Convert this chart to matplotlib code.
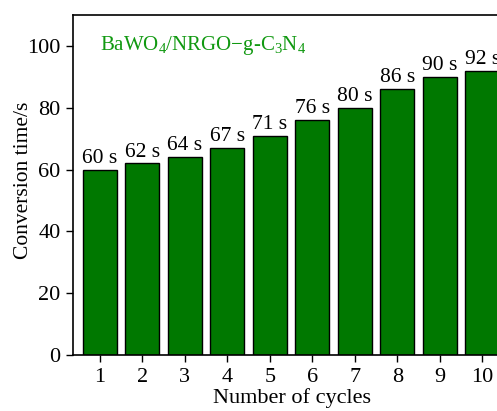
import matplotlib.pyplot as plt
import numpy as np

plt.rcParams['font.family'] = ['Liberation Serif', 'DejaVu Serif']
plt.rcParams['mathtext.fontset'] = 'custom'
plt.rcParams['mathtext.rm'] = 'Liberation Serif'
plt.rcParams['mathtext.it'] = 'Liberation Serif'

cycles = [1, 2, 3, 4, 5, 6, 7, 8, 9, 10]
times = [60, 62, 64, 67, 71, 76, 80, 86, 90, 92]

fig = plt.figure(figsize=(4.97, 4.11), dpi=100)
ax = fig.add_axes([0.147, 0.136, 0.875, 0.8275])

ax.bar(cycles, times, width=0.8, color='#007800', edgecolor='black', linewidth=1.0)
for c, t in zip(cycles, times):
    ax.text(c, t + 0.6, '%d s' % t, ha='center', va='bottom', fontsize=15.5)

ax.text(1.0, 100, r'BaWO$_4$/NRGO$-$g-C$_3$N$_4$', color='#119911',
        fontsize=15, ha='left', va='center')

ax.set_xlim(0.37, 10.6)
ax.set_ylim(0, 110)
ax.set_xticks(cycles)
ax.set_yticks(np.arange(0, 101, 20))
ax.tick_params(direction='out', length=5, width=1, labelsize=16, pad=4)
for s in ax.spines.values():
    s.set_linewidth(1.2)

ax.set_xlabel('Number of cycles', fontsize=16)
ax.set_ylabel('Conversion time/s', fontsize=15.5)
ax.xaxis.set_label_coords(0.503, -0.098)
ax.yaxis.set_label_coords(-0.092, 0.515)

fig.savefig('out.png', dpi=100)
